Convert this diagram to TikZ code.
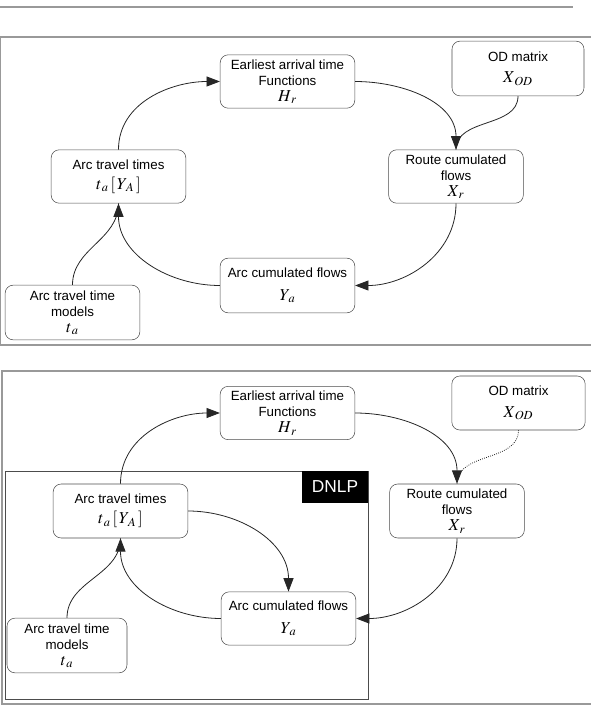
\documentclass[tikz,border=0pt]{standalone}
\usepackage{mathptmx}
\usepackage{fontspec}
\setmainfont{Liberation Sans}
\usetikzlibrary{arrows.meta}
\newcommand{\mvar}[1]{{\fontsize{12.5}{12}\selectfont$#1$}}

\begin{document}
\begin{tikzpicture}[x=0.75pt,y=-0.75pt, %pixel grid of the page
  box/.style={draw=black!70, rounded corners=6pt, align=center, inner sep=1pt,
    minimum width=101pt, minimum height=40pt, font=\fontsize{10}{12}\selectfont},
  link/.style={draw=black!85, line width=0.6pt},
  arrowed/.style={-{Triangle[length=10pt,width=7.5pt]}},
  frame/.style={draw=black!40, line width=1.1pt}]
\useasboundingbox (0,0) rectangle (591,706);

\draw[draw=black!40, line width=1.5pt] (0,7.5) -- (573,7.5);

% upper panel
\draw[frame] (591,37) -- (0.5,37) -- (0.5,345) -- (591,345);

\node[box] (ear) at (287.5,81.5) {Earliest arrival time\\Functions\\\mvar{H_{\,r}}};
\node[box, minimum width=99pt, minimum height=41pt] (od) at (518,68.5) {OD matrix\\[4pt]\mvar{X_{\,OD}}};
\node[box] (route) at (456,176.5) {Route cumulated\\flows\\\mvar{X_{\,r}}};
\node[box] (att) at (118.5,176.5) {Arc travel times\\[3pt]\mvar{t_{\,a}\,[\,Y_{\,A}\,]}};
\node[box, minimum height=41pt] (acf) at (287.5,285.5) {Arc cumulated flows\\[5pt]\mvar{Y_{\,a}}};
\node[box, minimum height=41pt] (attm) at (72.5,312.5) {Arc travel time\\models\\\mvar{t_{\,a}}};

\draw[link,arrowed] (att.north) to[out=90,in=180] (ear.west);
\draw[link,arrowed] (ear.east) to[out=0,in=90] (route.north);
\draw[link] (od.south) to[out=-90,in=90] (route.north);
\draw[link,arrowed] (route.south) to[out=-90,in=0] (acf.east);
\draw[link,arrowed] (acf.west) to[out=180,in=-90] (att.south);
\draw[link] (attm.north) to[out=90,in=-90] (att.south);

% lower panel
\draw[frame] (591,371) -- (2,371) -- (2,704) -- (591,704);
\draw[draw=black!70, line width=0.6pt] (5,471) rectangle (368,699);
\node[fill=black, text=white, font=\fontsize{13}{15}\selectfont,
  minimum width=49.5pt, minimum height=24pt] (dnlp) at (335,487) {DNLP};

\node[box] (ear2) at (287.5,413) {Earliest arrival time\\Functions\\\mvar{H_{\,r}}};
\node[box, minimum width=100pt, minimum height=40.5pt] (od2) at (518.5,403) {OD matrix\\[4pt]\mvar{X_{\,OD}}};
\node[box, minimum height=40.5pt] (route2) at (457,511) {Route cumulated\\flows\\\mvar{X_{\,r}}};
\node[box, minimum height=40.5pt] (att2) at (120.5,511) {Arc travel times\\[3pt]\mvar{t_{\,a}\,[\,Y_{\,A}\,]}};
\node[box] (acf2) at (288.5,618.5) {Arc cumulated flows\\[5pt]\mvar{Y_{\,a}}};
\node[box, minimum width=90pt, minimum height=41pt] (attm2) at (67,645.5) {Arc travel time\\models\\\mvar{t_{\,a}}};

\draw[link,arrowed] (att2.north) to[out=90,in=180] (ear2.west);
\draw[link,arrowed] (ear2.east) to[out=0,in=90] (route2.north);
\draw[link, densely dotted] (od2.south) to[out=-90,in=90] (route2.north);
\draw[link,arrowed] (route2.south) to[out=-90,in=0] (acf2.east);
\draw[link,arrowed] (acf2.west) to[out=180,in=-90] (att2.south);
\draw[link] (attm2.north) to[out=90,in=-90] (att2.south);
\draw[link,arrowed] (att2.east) to[out=0,in=90] (acf2.north);
\end{tikzpicture}
\end{document}
